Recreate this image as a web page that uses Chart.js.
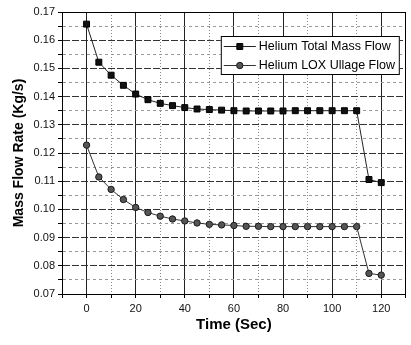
<!DOCTYPE html>
<html>
<head>
<meta charset="utf-8">
<script src="https://cdn.jsdelivr.net/npm/chart.js@4.4.0/dist/chart.umd.min.js"></script>
<style>
  html, body { margin: 0; padding: 0; background: #fff; }
  canvas { display: block; }
</style>
</head>
<body>
<canvas id="flow" width="411" height="345"></canvas>
<script>
// sample times (s) and measured helium flow rates (kg/s)
var timeSec = [0, 5, 10, 15, 20, 25, 30, 35, 40, 45, 50, 55, 60,
               65, 70, 75, 80, 85, 90, 95, 100, 105, 110, 115, 120];
var totalMassFlow = [0.1657, 0.1522, 0.1476, 0.1440, 0.1409, 0.1389, 0.1376, 0.1368, 0.1361,
                     0.1356, 0.1354, 0.1352, 0.1350, 0.1349, 0.1349, 0.1349, 0.1349, 0.1350,
                     0.1350, 0.1350, 0.1350, 0.1350, 0.1350, 0.1106, 0.1095];
var loxUllageFlow = [0.1228, 0.1115, 0.1071, 0.1035, 0.1007, 0.0989, 0.0976, 0.0966, 0.0959,
                     0.0952, 0.0947, 0.0945, 0.0943, 0.0940, 0.0940, 0.0939, 0.0939, 0.0939,
                     0.0939, 0.0939, 0.0939, 0.0939, 0.0939, 0.0773, 0.0767];
var seriesNames = ['Helium Total Mass Flow', 'Helium LOX Ullage Flow'];
var xTickLabels = ['0', '20', '40', '60', '80', '100', '120'];
var yTickLabels = ['0.07', '0.08', '0.09', '0.10', '0.11', '0.12', '0.13', '0.14', '0.15', '0.16', '0.17'];

var FONT = '"Liberation Sans", Arial, sans-serif';
var CLEAR = 'rgba(0,0,0,0)';

function points(ys) {
  return timeSec.map(function(t, i) { return {x: t, y: ys[i]}; });
}

function xMajor(v) { return xTickLabels.indexOf(String(v)) >= 0; }
function yMajor(v) { return Math.round(v * 1000) % 10 === 0; }

// box with line + marker samples, top right of the plot
var legendBox = {
  id: 'legendBox',
  afterDraw: function(chart) {
    var ctx = chart.ctx, area = chart.chartArea;
    var w = 179, h = 39;
    var left = area.right - 6 - w, top = area.top + 24;
    ctx.save();
    ctx.fillStyle = '#fff';
    ctx.fillRect(left, top, w, h);
    ctx.strokeStyle = '#000';
    ctx.lineWidth = 1;
    ctx.setLineDash([]);
    ctx.strokeRect(left + 0.5, top + 0.5, w - 1, h - 1);
    chart.data.datasets.forEach(function(ds, i) {
      var y = Math.round(top + 10 + i * 18.5) + 0.5;
      ctx.strokeStyle = ds.borderColor;
      ctx.lineWidth = 1;
      ctx.beginPath();
      ctx.moveTo(left + 3, y);
      ctx.lineTo(left + 35, y);
      ctx.stroke();
      ctx.fillStyle = ds.pointBackgroundColor;
      ctx.strokeStyle = ds.pointBorderColor;
      Chart.helpers.drawPoint(ctx, {
        pointStyle: ds.pointStyle, radius: ds.pointRadius,
        borderWidth: ds.pointBorderWidth, rotation: 0
      }, left + 19, y);
      ctx.fillStyle = '#000';
      ctx.font = '12.5px ' + FONT;
      ctx.textBaseline = 'middle';
      ctx.fillText(ds.label, left + 38, y);
    });
    ctx.restore();
  }
};

new Chart(document.getElementById('flow'), {
  type: 'line',
  data: {
    datasets: [{
      label: seriesNames[0],
      data: points(totalMassFlow),
      borderColor: '#222',
      borderWidth: 1,
      pointStyle: 'rect',
      pointRadius: 4.2,
      pointBackgroundColor: '#111',
      pointBorderColor: '#000',
      pointBorderWidth: 1
    }, {
      label: seriesNames[1],
      data: points(loxUllageFlow),
      borderColor: '#333',
      borderWidth: 1,
      pointStyle: 'circle',
      pointRadius: 3.2,
      pointBackgroundColor: '#555',
      pointBorderColor: '#1a1a1a',
      pointBorderWidth: 1
    }]
  },
  options: {
    responsive: false,
    animation: false,
    layout: { padding: 0 },
    plugins: { legend: { display: false }, tooltip: { enabled: false } },
    scales: {
      x: {
        type: 'linear', position: 'bottom', min: -10, max: 130,
        afterFit: function(s) { s.height = 51; },
        ticks: {
          stepSize: 10, autoSkip: false, maxRotation: 0, padding: 4,
          color: '#111', font: { family: FONT, size: 11 },
          callback: function(v) { return xMajor(v) ? xTickLabels[xTickLabels.indexOf(String(v))] : ''; }
        },
        grid: {
          tickLength: 4, tickColor: '#000', lineWidth: 1,
          color: function(c) {
            if (!c.tick || c.tick.value <= -10 || c.tick.value >= 130) return CLEAR;
            return xMajor(c.tick.value) ? '#222' : '#888';
          }
        },
        border: {
          color: '#000', width: 1,
          dash: function(c) {
            if (!c.tick) return [];
            return xMajor(c.tick.value) ? [] : [1, 2];
          }
        },
        title: {
          display: true, text: 'Time (Sec)', color: '#000',
          font: { family: FONT, size: 15, weight: 'bold' },
          padding: { top: 0, bottom: 11 }
        }
      },
      xTop: {
        type: 'linear', position: 'top', min: -10, max: 130,
        afterFit: function(s) { s.height = 12; },
        ticks: { display: false },
        grid: { display: false },
        border: { color: '#000', width: 1 }
      },
      y: {
        type: 'linear', position: 'left', min: 0.07, max: 0.17,
        afterFit: function(s) { s.width = 62; },
        ticks: {
          stepSize: 0.005, autoSkip: false, padding: 3,
          color: '#111', font: { family: FONT, size: 11 },
          callback: function(v) {
            if (!yMajor(v)) return '';
            return yTickLabels[Math.round(v * 100) - 7];
          }
        },
        grid: {
          tickLength: 4, tickColor: '#000', lineWidth: 1,
          color: function(c) {
            if (!c.tick) return CLEAR;
            var k = Math.round(c.tick.value * 1000);
            if (k <= 70 || k >= 170) return CLEAR;
            return yMajor(c.tick.value) ? '#333' : '#999';
          }
        },
        border: {
          color: '#000', width: 1,
          dash: function(c) {
            if (!c.tick) return [];
            return yMajor(c.tick.value) ? [7, 2] : [3, 3];
          }
        },
        title: {
          display: true, text: 'Mass Flow Rate (Kg/s)', color: '#000',
          font: { family: FONT, size: 14, weight: 'bold' },
          padding: { top: 11, bottom: 0 }
        }
      },
      yRight: {
        type: 'linear', position: 'right', min: 0.07, max: 0.17,
        afterFit: function(s) { s.width = 2; },
        ticks: { display: false },
        grid: { display: false },
        border: { color: '#000', width: 1 }
      }
    }
  },
  plugins: [legendBox]
});
</script>
</body>
</html>
